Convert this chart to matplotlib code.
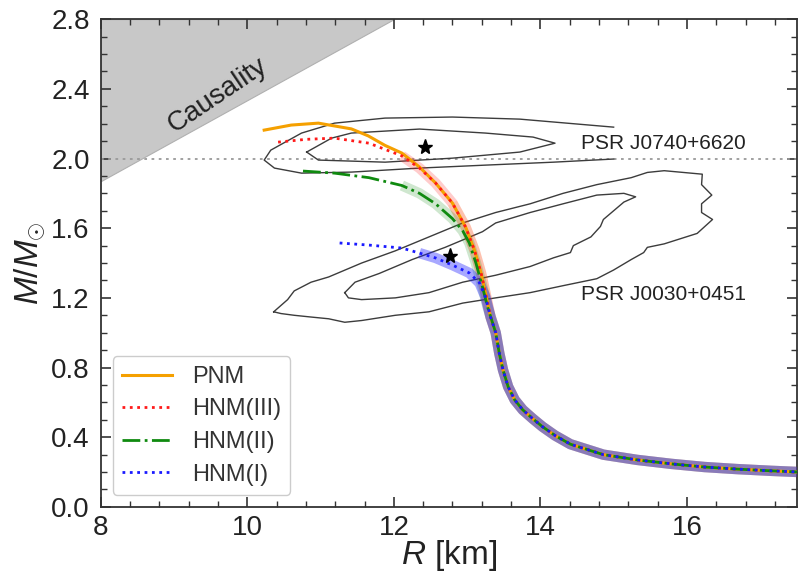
import numpy as np
import matplotlib
matplotlib.use("Agg")
import matplotlib.pyplot as plt
from matplotlib.ticker import MultipleLocator

plt.rcParams['font.family'] = ['Liberation Sans', 'DejaVu Sans']
plt.rcParams['mathtext.fontset'] = 'custom'
plt.rcParams['mathtext.rm'] = 'Liberation Sans'
plt.rcParams['mathtext.it'] = 'Liberation Sans:italic'

# --- data (R in km, M in solar masses) ---
# shared low-mass branch, all models coincide here
lowR = [13.39, 13.44, 13.49, 13.56, 13.65, 13.76, 13.90, 14.03, 14.20, 14.41,
        14.86, 15.32, 15.79, 16.24, 16.69, 17.16, 17.60]
lowM = [1.000, 0.880, 0.786, 0.690, 0.614, 0.557, 0.505, 0.460, 0.410, 0.360,
        0.300, 0.270, 0.247, 0.229, 0.217, 0.207, 0.199]

pnmR = [10.23, 10.60, 10.97, 11.42, 11.65, 11.88, 12.11, 12.35, 12.57, 12.80,
        12.98, 13.10, 13.19, 13.25, 13.32]
pnmM = [2.163, 2.192, 2.203, 2.170, 2.130, 2.075, 2.031, 1.951, 1.859, 1.744,
        1.606, 1.474, 1.343, 1.228, 1.090]

hnm3R = [10.42, 10.80, 11.19, 11.66, 12.11, 12.35, 12.57, 12.80, 12.98, 13.10,
         13.19, 13.25, 13.32]
hnm3M = [2.094, 2.110, 2.117, 2.088, 2.015, 1.945, 1.859, 1.744, 1.606, 1.474,
         1.343, 1.228, 1.090]

hnm2R = [10.76, 11.19, 11.66, 12.11, 12.35, 12.57, 12.80, 12.94, 13.03, 13.12,
         13.21, 13.28]
hnm2M = [1.928, 1.916, 1.890, 1.845, 1.800, 1.740, 1.655, 1.585, 1.515, 1.400,
         1.262, 1.147]

hnm1R = [11.26, 11.66, 12.11, 12.35, 12.57, 12.80, 13.03, 13.17, 13.25, 13.32]
hnm1M = [1.515, 1.503, 1.486, 1.457, 1.429, 1.388, 1.343, 1.285, 1.205, 1.090]

# NICER / radio constraints
j0740_outR = [15.00, 13.72, 12.80, 11.88, 11.19, 10.74, 10.32, 10.23, 10.37, 10.74,
              11.42, 12.35, 13.25, 14.18, 15.00]
j0740_outM = [2.180, 2.226, 2.238, 2.232, 2.203, 2.146, 2.048, 1.991, 1.945, 1.916,
              1.922, 1.945, 1.962, 1.979, 1.997]
j0740_inR = [10.81, 11.15, 11.42, 12.35, 13.25, 13.90, 14.20, 13.72, 12.80, 11.88, 10.97, 10.81]
j0740_inM = [2.037, 2.117, 2.146, 2.169, 2.146, 2.123, 2.088, 2.037, 2.002, 1.979, 1.991, 2.037]

j0030_outR = [10.36, 10.55, 10.64, 10.87, 11.11, 11.56, 12.02, 12.48, 12.94, 13.39, 13.86,
              14.31, 14.77, 15.24, 15.46, 15.69, 16.21, 16.20, 16.34, 16.20, 16.20, 16.35,
              16.14, 15.69, 15.46, 15.41, 15.24, 15.00, 14.77, 14.31, 13.86, 13.39, 12.94,
              12.48, 12.02, 11.56, 11.33, 11.11, 10.87, 10.64, 10.46, 10.36]
j0030_outM = [1.12, 1.19, 1.24, 1.29, 1.32, 1.40, 1.47, 1.55, 1.63, 1.69, 1.74,
              1.80, 1.85, 1.89, 1.92, 1.93, 1.91, 1.85, 1.79, 1.74, 1.69, 1.65,
              1.57, 1.51, 1.49, 1.46, 1.42, 1.36, 1.31, 1.27, 1.23, 1.20, 1.17,
              1.12, 1.10, 1.07, 1.06, 1.08, 1.09, 1.10, 1.11, 1.12]
j0030_inR = [11.33, 11.47, 11.80, 12.25, 12.70, 13.21, 13.39, 13.86, 14.31, 14.77, 15.14,
             15.30, 15.14, 15.00, 14.86, 14.82, 14.69, 14.45, 14.41, 14.18, 13.86, 13.39,
             12.94, 12.48, 12.02, 11.56, 11.38, 11.33]
j0030_inM = [1.23, 1.29, 1.34, 1.42, 1.49, 1.58, 1.63, 1.69, 1.74, 1.79, 1.80,
             1.78, 1.75, 1.70, 1.65, 1.61, 1.55, 1.50, 1.46, 1.43, 1.38, 1.33,
             1.29, 1.23, 1.20, 1.19, 1.20, 1.23]

starR = [12.43, 12.77]
starM = [2.065, 1.44]

causR = [8.0, 12.0]
causM = [1.87, 2.80]

# label, R, M, colour, linestyle, band starts below this mass, band alpha
models = [
    ("PNM", pnmR, pnmM, "#f5a000", "-", 1.75, 0.15),
    ("HNM(III)", hnm3R, hnm3M, "#ff1a1a", ":", 2.05, 0.22),
    ("HNM(II)", hnm2R, hnm2M, "#0f8a0f", "-.", 1.85, 0.2),
    ("HNM(I)", hnm1R, hnm1M, "#1a1aff", ":", 1.48, 0.38),
]

fig = plt.figure(figsize=(8, 5.8), dpi=100)
ax = fig.add_axes([0.126, 0.126, 0.870, 0.841])

# causality excluded region
ax.fill_between(causR, causM, 2.8, color="#c8c8c8", edgecolor="#b0b0b0", lw=0.8, zorder=1)
ax.text(9.60, 2.365, "Causality", rotation=34, fontsize=20, ha="center", va="center",
        color="#222222", zorder=2)

ax.axhline(2.0, color="#9a9a9a", ls=(0, (1.5, 2.5)), lw=1.3, zorder=2)

# observational contours
for r, m in [(j0740_outR, j0740_outM), (j0740_inR, j0740_inM),
             (j0030_outR, j0030_outM), (j0030_inR, j0030_inM)]:
    ax.plot(r, m, color="#3c3c3c", lw=1.0, zorder=3)
ax.plot(starR, starM, ls="none", marker="*", ms=11, color="k", zorder=6)
ax.text(14.56, 2.085, "PSR J0740+6620", fontsize=15, va="center", color="#222222")
ax.text(14.56, 1.22, "PSR J0030+0451", fontsize=15, va="center", color="#222222")

# uncertainty bands (translucent thick strokes) and central curves
for label, r, m, col, ls, mband, a in models:
    R = np.concatenate([r, lowR])
    M = np.concatenate([m, lowM])
    sel = M <= mband
    ax.plot(R[sel], M[sel], color=col, lw=7.5, alpha=a, solid_capstyle="butt",
            solid_joinstyle="round", zorder=4)
for label, r, m, col, ls, mband, a in models:
    R = np.concatenate([r, lowR])
    M = np.concatenate([m, lowM])
    lw = 2.2 if ls == "-" else 2.0
    ax.plot(R, M, color=col, ls=ls, lw=lw, label=label, zorder=5)

ax.set_xlim(8, 17.5)
ax.set_ylim(0, 2.8)
ax.xaxis.set_major_locator(MultipleLocator(2))
ax.xaxis.set_minor_locator(MultipleLocator(0.4))
ax.yaxis.set_major_locator(MultipleLocator(0.4))
ax.yaxis.set_minor_locator(MultipleLocator(0.1))
ax.tick_params(which="both", direction="in", top=True, right=True, color="#333333",
               labelsize=20, labelcolor="#222222")
ax.tick_params(which="major", length=7, width=1.2)
ax.tick_params(which="minor", length=4, width=1.0)
ax.tick_params(axis="y", which="major", pad=8)
ax.tick_params(axis="x", which="major", pad=6)
for sp in ax.spines.values():
    sp.set_color("#333333")
    sp.set_linewidth(1.3)

ax.set_xlabel("$R$ [km]", fontsize=24, labelpad=-2, color="#222222")
ax.set_ylabel(r"$M/M_{\odot}$", fontsize=24, labelpad=2, color="#222222")

leg = ax.legend(loc="lower left", fontsize=17, handlelength=2.1, handletextpad=0.85,
                labelspacing=0.45, borderaxespad=0.5, borderpad=0.4, framealpha=1,
                edgecolor="#cccccc", fancybox=True)
for t in leg.get_texts():
    t.set_color("#333333")

fig.savefig("out.png", dpi=100)
